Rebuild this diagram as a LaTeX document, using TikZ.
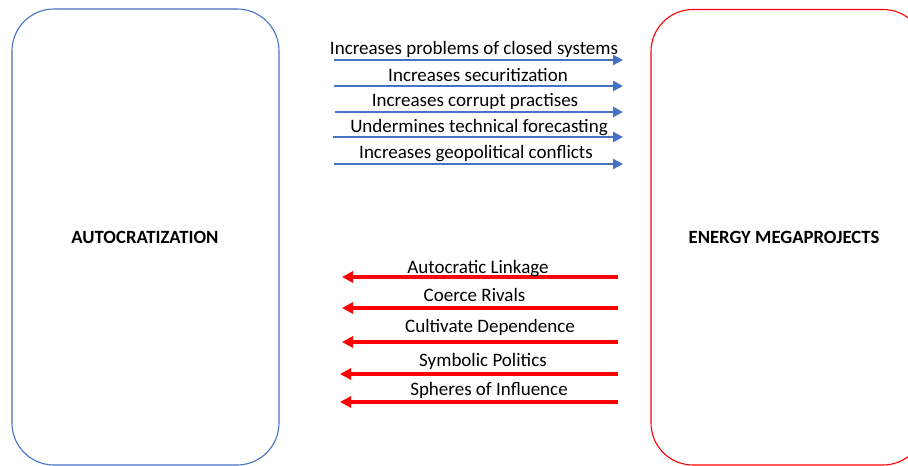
\documentclass[tikz,border=0pt]{standalone}
\usepackage{fontspec}
\setmainfont{Carlito}
\usetikzlibrary{arrows.meta}
\definecolor{boxblue}{HTML}{4472C4}
\definecolor{boxred}{HTML}{FF0000}
\begin{document}
\begin{tikzpicture}[x=1bp,y=-1bp,
  panel/.style={rounded corners=42bp,line width=1.1bp},
  title/.style={font=\bfseries\fontsize{18.7bp}{22bp}\selectfont,text=black,inner sep=0pt,anchor=base},
  lbl/.style={font=\fontsize{19bp}{22bp}\selectfont,text=black,inner sep=0pt,anchor=base},
  bluearrow/.style={draw=boxblue,line width=2.9bp,-{Triangle[length=10bp,width=10bp]}},
  redarrow/.style={draw=boxred,line width=3.9bp,-{Triangle[length=11bp,width=11bp]}}]
\useasboundingbox (0,0) rectangle (908,466);
\clip (0,0) rectangle (908,466);

% the two panels
\draw[panel,draw=boxblue] (12,9) rectangle (279,465);
\draw[panel,draw=boxred] (651,9.5) rectangle (925,465);
\node[title] (autoc) at (145,244) {AUTOCRATIZATION};
\node[title] (energy) at (784,244) {ENERGY MEGAPROJECTS};

% effects of autocratization on megaprojects
\foreach \i/\y/\sx/\txt/\cx/\by in {
  1/60/334/Increases problems of closed systems/474/55,
  2/86/334/Increases securitization/478/81.7,
  3/112/335/Increases corrupt practises/475/106.7,
  4/137/333/Undermines technical forecasting/479/132.7,
  5/164/334/Increases geopolitical conflicts/476/158.3}{
  \coordinate (bs\i) at (\sx,\y);
  \coordinate (be\i) at (623,\y);
  \draw[bluearrow] (bs\i) -- (be\i);
  \node[lbl] (bl\i) at (\cx,\by) {\txt};
}

% uses of megaprojects by autocrats
\foreach \i/\y/\ex/\txt/\cx/\by in {
  1/277/342/Autocratic Linkage/478/274,
  2/308/342/Coerce Rivals/474.5/301.7,
  3/342/342/Cultivate Dependence/490/333,
  4/374/340/Symbolic Politics/483/366.7,
  5/402/340/Spheres of Influence/489/395}{
  \coordinate (rs\i) at (618,\y);
  \coordinate (re\i) at (\ex,\y);
  \draw[redarrow] (rs\i) -- (re\i);
  \node[lbl] (rl\i) at (\cx,\by) {\txt};
}
\end{tikzpicture}
\end{document}
